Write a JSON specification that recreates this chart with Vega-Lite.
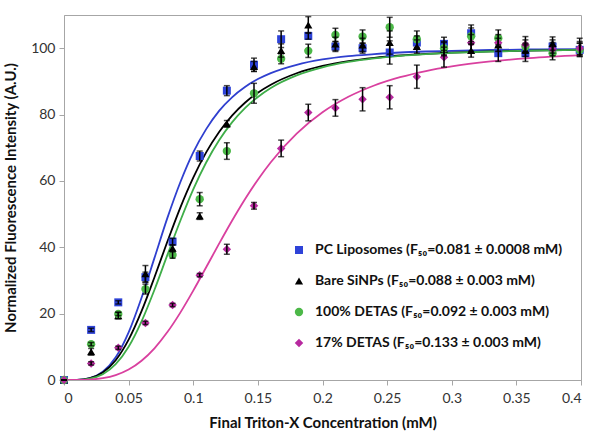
{
  "$schema": "https://vega.github.io/schema/vega-lite/v6.json",
  "width": 517,
  "height": 365,
  "autosize": {"type": "none"},
  "padding": {"left": 64, "top": 15, "right": 19, "bottom": 65},
  "background": "white",
  "config": {
    "font": "Lato",
    "view": {"stroke": "#a6a6a6", "strokeWidth": 1},
    "axis": {
      "grid": false,
      "domainColor": "#a6a6a6",
      "tickColor": "#a6a6a6",
      "tickSize": 5,
      "labelFont": "Lato",
      "labelFontSize": 14,
      "labelColor": "#333333",
      "titleFont": "Lato",
      "titleFontSize": 15,
      "titleFontWeight": "bold",
      "titleColor": "#111111"
    }
  },
  "datasets": {
    "pts": [
      {"series": "PC Liposomes (F₅₀=0.081 ± 0.0008 mM)", "x": 0, "y": 0, "err": 0},
      {"series": "PC Liposomes (F₅₀=0.081 ± 0.0008 mM)", "x": 0.021, "y": 15.1, "err": 0.5},
      {"series": "PC Liposomes (F₅₀=0.081 ± 0.0008 mM)", "x": 0.042, "y": 23.4, "err": 0.5},
      {"series": "PC Liposomes (F₅₀=0.081 ± 0.0008 mM)", "x": 0.063, "y": 31, "err": 1.5},
      {"series": "PC Liposomes (F₅₀=0.081 ± 0.0008 mM)", "x": 0.084, "y": 41.7, "err": 1},
      {"series": "PC Liposomes (F₅₀=0.081 ± 0.0008 mM)", "x": 0.105, "y": 67.5, "err": 1.5},
      {"series": "PC Liposomes (F₅₀=0.081 ± 0.0008 mM)", "x": 0.126, "y": 87.2, "err": 1.5},
      {"series": "PC Liposomes (F₅₀=0.081 ± 0.0008 mM)", "x": 0.147, "y": 95, "err": 2},
      {"series": "PC Liposomes (F₅₀=0.081 ± 0.0008 mM)", "x": 0.168, "y": 102.7, "err": 2.5},
      {"series": "PC Liposomes (F₅₀=0.081 ± 0.0008 mM)", "x": 0.189, "y": 103.7, "err": 1},
      {"series": "PC Liposomes (F₅₀=0.081 ± 0.0008 mM)", "x": 0.21, "y": 100.5, "err": 1.5},
      {"series": "PC Liposomes (F₅₀=0.081 ± 0.0008 mM)", "x": 0.231, "y": 100, "err": 1.5},
      {"series": "PC Liposomes (F₅₀=0.081 ± 0.0008 mM)", "x": 0.252, "y": 98.7, "err": 3.5},
      {"series": "PC Liposomes (F₅₀=0.081 ± 0.0008 mM)", "x": 0.273, "y": 101.7, "err": 2},
      {"series": "PC Liposomes (F₅₀=0.081 ± 0.0008 mM)", "x": 0.294, "y": 101.3, "err": 2},
      {"series": "PC Liposomes (F₅₀=0.081 ± 0.0008 mM)", "x": 0.315, "y": 104.5, "err": 2.5},
      {"series": "PC Liposomes (F₅₀=0.081 ± 0.0008 mM)", "x": 0.336, "y": 98.5, "err": 2.5},
      {"series": "PC Liposomes (F₅₀=0.081 ± 0.0008 mM)", "x": 0.357, "y": 98.5, "err": 2.5},
      {"series": "PC Liposomes (F₅₀=0.081 ± 0.0008 mM)", "x": 0.378, "y": 100.5, "err": 2},
      {"series": "PC Liposomes (F₅₀=0.081 ± 0.0008 mM)", "x": 0.399, "y": 99.5, "err": 2},
      {"series": "Bare SiNPs (F₅₀=0.088 ± 0.003 mM)", "x": 0, "y": 0, "err": 0},
      {"series": "Bare SiNPs (F₅₀=0.088 ± 0.003 mM)", "x": 0.021, "y": 8.5, "err": 1},
      {"series": "Bare SiNPs (F₅₀=0.088 ± 0.003 mM)", "x": 0.042, "y": 19.4, "err": 1},
      {"series": "Bare SiNPs (F₅₀=0.088 ± 0.003 mM)", "x": 0.063, "y": 32, "err": 2.5},
      {"series": "Bare SiNPs (F₅₀=0.088 ± 0.003 mM)", "x": 0.084, "y": 39.7, "err": 1},
      {"series": "Bare SiNPs (F₅₀=0.088 ± 0.003 mM)", "x": 0.105, "y": 49.4, "err": 1},
      {"series": "Bare SiNPs (F₅₀=0.088 ± 0.003 mM)", "x": 0.126, "y": 77.2, "err": 1},
      {"series": "Bare SiNPs (F₅₀=0.088 ± 0.003 mM)", "x": 0.147, "y": 94.5, "err": 1.5},
      {"series": "Bare SiNPs (F₅₀=0.088 ± 0.003 mM)", "x": 0.168, "y": 99.3, "err": 2},
      {"series": "Bare SiNPs (F₅₀=0.088 ± 0.003 mM)", "x": 0.189, "y": 107, "err": 2.5},
      {"series": "Bare SiNPs (F₅₀=0.088 ± 0.003 mM)", "x": 0.21, "y": 101.3, "err": 2},
      {"series": "Bare SiNPs (F₅₀=0.088 ± 0.003 mM)", "x": 0.231, "y": 101, "err": 2},
      {"series": "Bare SiNPs (F₅₀=0.088 ± 0.003 mM)", "x": 0.252, "y": 101.7, "err": 3.5},
      {"series": "Bare SiNPs (F₅₀=0.088 ± 0.003 mM)", "x": 0.273, "y": 100.5, "err": 2},
      {"series": "Bare SiNPs (F₅₀=0.088 ± 0.003 mM)", "x": 0.294, "y": 99.7, "err": 2},
      {"series": "Bare SiNPs (F₅₀=0.088 ± 0.003 mM)", "x": 0.315, "y": 99.3, "err": 2},
      {"series": "Bare SiNPs (F₅₀=0.088 ± 0.003 mM)", "x": 0.336, "y": 101, "err": 2},
      {"series": "Bare SiNPs (F₅₀=0.088 ± 0.003 mM)", "x": 0.357, "y": 99.5, "err": 2},
      {"series": "Bare SiNPs (F₅₀=0.088 ± 0.003 mM)", "x": 0.378, "y": 101.4, "err": 2},
      {"series": "Bare SiNPs (F₅₀=0.088 ± 0.003 mM)", "x": 0.399, "y": 100.5, "err": 2.5},
      {"series": "100% DETAS (F₅₀=0.092 ± 0.003 mM)", "x": 0, "y": 0, "err": 0},
      {"series": "100% DETAS (F₅₀=0.092 ± 0.003 mM)", "x": 0.021, "y": 10.8, "err": 0.5},
      {"series": "100% DETAS (F₅₀=0.092 ± 0.003 mM)", "x": 0.042, "y": 19.9, "err": 0.5},
      {"series": "100% DETAS (F₅₀=0.092 ± 0.003 mM)", "x": 0.063, "y": 27.4, "err": 1.5},
      {"series": "100% DETAS (F₅₀=0.092 ± 0.003 mM)", "x": 0.084, "y": 37.7, "err": 1},
      {"series": "100% DETAS (F₅₀=0.092 ± 0.003 mM)", "x": 0.105, "y": 54.5, "err": 2},
      {"series": "100% DETAS (F₅₀=0.092 ± 0.003 mM)", "x": 0.126, "y": 69, "err": 2.5},
      {"series": "100% DETAS (F₅₀=0.092 ± 0.003 mM)", "x": 0.147, "y": 86.4, "err": 3},
      {"series": "100% DETAS (F₅₀=0.092 ± 0.003 mM)", "x": 0.168, "y": 96.8, "err": 1.5},
      {"series": "100% DETAS (F₅₀=0.092 ± 0.003 mM)", "x": 0.189, "y": 99.2, "err": 2},
      {"series": "100% DETAS (F₅₀=0.092 ± 0.003 mM)", "x": 0.21, "y": 104, "err": 2},
      {"series": "100% DETAS (F₅₀=0.092 ± 0.003 mM)", "x": 0.231, "y": 103.5, "err": 2},
      {"series": "100% DETAS (F₅₀=0.092 ± 0.003 mM)", "x": 0.252, "y": 106.3, "err": 3},
      {"series": "100% DETAS (F₅₀=0.092 ± 0.003 mM)", "x": 0.273, "y": 102.7, "err": 2.5},
      {"series": "100% DETAS (F₅₀=0.092 ± 0.003 mM)", "x": 0.294, "y": 100, "err": 2},
      {"series": "100% DETAS (F₅₀=0.092 ± 0.003 mM)", "x": 0.315, "y": 103.6, "err": 2.5},
      {"series": "100% DETAS (F₅₀=0.092 ± 0.003 mM)", "x": 0.336, "y": 103, "err": 2.5},
      {"series": "100% DETAS (F₅₀=0.092 ± 0.003 mM)", "x": 0.357, "y": 100.5, "err": 2},
      {"series": "100% DETAS (F₅₀=0.092 ± 0.003 mM)", "x": 0.378, "y": 98.5, "err": 2},
      {"series": "100% DETAS (F₅₀=0.092 ± 0.003 mM)", "x": 0.399, "y": 99.5, "err": 2},
      {"series": "17% DETAS (F₅₀=0.133 ± 0.003 mM)", "x": 0, "y": 0, "err": 0},
      {"series": "17% DETAS (F₅₀=0.133 ± 0.003 mM)", "x": 0.021, "y": 5, "err": 0.5},
      {"series": "17% DETAS (F₅₀=0.133 ± 0.003 mM)", "x": 0.042, "y": 9.7, "err": 0.5},
      {"series": "17% DETAS (F₅₀=0.133 ± 0.003 mM)", "x": 0.063, "y": 17.2, "err": 0.5},
      {"series": "17% DETAS (F₅₀=0.133 ± 0.003 mM)", "x": 0.084, "y": 22.6, "err": 0.5},
      {"series": "17% DETAS (F₅₀=0.133 ± 0.003 mM)", "x": 0.105, "y": 31.6, "err": 0.5},
      {"series": "17% DETAS (F₅₀=0.133 ± 0.003 mM)", "x": 0.126, "y": 39.4, "err": 1.5},
      {"series": "17% DETAS (F₅₀=0.133 ± 0.003 mM)", "x": 0.147, "y": 52.5, "err": 1},
      {"series": "17% DETAS (F₅₀=0.133 ± 0.003 mM)", "x": 0.168, "y": 69.8, "err": 2.5},
      {"series": "17% DETAS (F₅₀=0.133 ± 0.003 mM)", "x": 0.189, "y": 80.6, "err": 2.5},
      {"series": "17% DETAS (F₅₀=0.133 ± 0.003 mM)", "x": 0.21, "y": 82, "err": 2.5},
      {"series": "17% DETAS (F₅₀=0.133 ± 0.003 mM)", "x": 0.231, "y": 84.6, "err": 3.5},
      {"series": "17% DETAS (F₅₀=0.133 ± 0.003 mM)", "x": 0.252, "y": 85.2, "err": 3.5},
      {"series": "17% DETAS (F₅₀=0.133 ± 0.003 mM)", "x": 0.273, "y": 91.4, "err": 3.5},
      {"series": "17% DETAS (F₅₀=0.133 ± 0.003 mM)", "x": 0.294, "y": 97.3, "err": 3},
      {"series": "17% DETAS (F₅₀=0.133 ± 0.003 mM)", "x": 0.315, "y": 101.6, "err": 2.5},
      {"series": "17% DETAS (F₅₀=0.133 ± 0.003 mM)", "x": 0.336, "y": 101.6, "err": 2.5},
      {"series": "17% DETAS (F₅₀=0.133 ± 0.003 mM)", "x": 0.357, "y": 101, "err": 2.5},
      {"series": "17% DETAS (F₅₀=0.133 ± 0.003 mM)", "x": 0.378, "y": 99.7, "err": 2},
      {"series": "17% DETAS (F₅₀=0.133 ± 0.003 mM)", "x": 0.399, "y": 100, "err": 2}
    ],
    "fit": [
      {"c": "PC", "x": 0, "y": 0}, {"c": "PC", "x": 0.01, "y": 0.04}, {"c": "PC", "x": 0.02, "y": 0.56}, {"c": "PC", "x": 0.03, "y": 2.47}, {"c": "PC", "x": 0.04, "y": 6.84}, {"c": "PC", "x": 0.05, "y": 14.37}, {"c": "PC", "x": 0.06, "y": 24.8}, {"c": "PC", "x": 0.07, "y": 36.8}, {"c": "PC", "x": 0.08, "y": 48.85}, {"c": "PC", "x": 0.09, "y": 59.6}, {"c": "PC", "x": 0.1, "y": 68.6}, {"c": "PC", "x": 0.11, "y": 75.6}, {"c": "PC", "x": 0.12, "y": 81.1}, {"c": "PC", "x": 0.13, "y": 85.2}, {"c": "PC", "x": 0.14, "y": 88.3}, {"c": "PC", "x": 0.15, "y": 90.7}, {"c": "PC", "x": 0.16, "y": 92.5}, {"c": "PC", "x": 0.18, "y": 95.0}, {"c": "PC", "x": 0.2, "y": 96.6}, {"c": "PC", "x": 0.22, "y": 97.6}, {"c": "PC", "x": 0.24, "y": 98.2}, {"c": "PC", "x": 0.26, "y": 98.7}, {"c": "PC", "x": 0.28, "y": 99.0}, {"c": "PC", "x": 0.3, "y": 99.2}, {"c": "PC", "x": 0.33, "y": 99.45}, {"c": "PC", "x": 0.36, "y": 99.6}, {"c": "PC", "x": 0.4, "y": 99.7},
      {"c": "Bare", "x": 0, "y": 0}, {"c": "Bare", "x": 0.01, "y": 0.05}, {"c": "Bare", "x": 0.02, "y": 0.56}, {"c": "Bare", "x": 0.03, "y": 2.26}, {"c": "Bare", "x": 0.04, "y": 5.95}, {"c": "Bare", "x": 0.05, "y": 12.15}, {"c": "Bare", "x": 0.06, "y": 20.74}, {"c": "Bare", "x": 0.07, "y": 30.98}, {"c": "Bare", "x": 0.08, "y": 41.73}, {"c": "Bare", "x": 0.09, "y": 51.97}, {"c": "Bare", "x": 0.1, "y": 61.0}, {"c": "Bare", "x": 0.11, "y": 68.6}, {"c": "Bare", "x": 0.12, "y": 74.75}, {"c": "Bare", "x": 0.13, "y": 79.67}, {"c": "Bare", "x": 0.14, "y": 83.55}, {"c": "Bare", "x": 0.15, "y": 86.6}, {"c": "Bare", "x": 0.16, "y": 89.0}, {"c": "Bare", "x": 0.18, "y": 92.45}, {"c": "Bare", "x": 0.2, "y": 94.65}, {"c": "Bare", "x": 0.22, "y": 96.1}, {"c": "Bare", "x": 0.24, "y": 97.1}, {"c": "Bare", "x": 0.26, "y": 97.8}, {"c": "Bare", "x": 0.28, "y": 98.3}, {"c": "Bare", "x": 0.3, "y": 98.65}, {"c": "Bare", "x": 0.33, "y": 99.03}, {"c": "Bare", "x": 0.36, "y": 99.28}, {"c": "Bare", "x": 0.4, "y": 99.5},
      {"c": "D100", "x": 0, "y": 0}, {"c": "D100", "x": 0.01, "y": 0.03}, {"c": "D100", "x": 0.02, "y": 0.41}, {"c": "D100", "x": 0.03, "y": 1.74}, {"c": "D100", "x": 0.04, "y": 4.75}, {"c": "D100", "x": 0.05, "y": 10.0}, {"c": "D100", "x": 0.06, "y": 17.67}, {"c": "D100", "x": 0.07, "y": 27.2}, {"c": "D100", "x": 0.08, "y": 37.7}, {"c": "D100", "x": 0.09, "y": 48.0}, {"c": "D100", "x": 0.1, "y": 57.45}, {"c": "D100", "x": 0.11, "y": 65.55}, {"c": "D100", "x": 0.12, "y": 72.25}, {"c": "D100", "x": 0.13, "y": 77.64}, {"c": "D100", "x": 0.14, "y": 81.93}, {"c": "D100", "x": 0.15, "y": 85.3}, {"c": "D100", "x": 0.16, "y": 88.0}, {"c": "D100", "x": 0.18, "y": 91.8}, {"c": "D100", "x": 0.2, "y": 94.24}, {"c": "D100", "x": 0.22, "y": 95.85}, {"c": "D100", "x": 0.24, "y": 96.93}, {"c": "D100", "x": 0.26, "y": 97.68}, {"c": "D100", "x": 0.28, "y": 98.21}, {"c": "D100", "x": 0.3, "y": 98.6}, {"c": "D100", "x": 0.33, "y": 99.0}, {"c": "D100", "x": 0.36, "y": 99.27}, {"c": "D100", "x": 0.4, "y": 99.5},
      {"c": "D17", "x": 0, "y": 0}, {"c": "D17", "x": 0.01, "y": 0.01}, {"c": "D17", "x": 0.02, "y": 0.13}, {"c": "D17", "x": 0.03, "y": 0.54}, {"c": "D17", "x": 0.04, "y": 1.47}, {"c": "D17", "x": 0.05, "y": 3.15}, {"c": "D17", "x": 0.06, "y": 5.81}, {"c": "D17", "x": 0.07, "y": 9.56}, {"c": "D17", "x": 0.08, "y": 14.44}, {"c": "D17", "x": 0.09, "y": 20.31}, {"c": "D17", "x": 0.1, "y": 26.93}, {"c": "D17", "x": 0.11, "y": 33.97}, {"c": "D17", "x": 0.12, "y": 41.09}, {"c": "D17", "x": 0.13, "y": 48.0}, {"c": "D17", "x": 0.14, "y": 54.48}, {"c": "D17", "x": 0.15, "y": 60.38}, {"c": "D17", "x": 0.16, "y": 65.63}, {"c": "D17", "x": 0.18, "y": 74.25}, {"c": "D17", "x": 0.2, "y": 80.66}, {"c": "D17", "x": 0.22, "y": 85.34}, {"c": "D17", "x": 0.24, "y": 88.75}, {"c": "D17", "x": 0.26, "y": 91.26}, {"c": "D17", "x": 0.28, "y": 93.12}, {"c": "D17", "x": 0.3, "y": 94.52}, {"c": "D17", "x": 0.33, "y": 96.0}, {"c": "D17", "x": 0.36, "y": 97.02}, {"c": "D17", "x": 0.4, "y": 97.92}
    ]
  },
  "layer": [
    {
      "data": {"name": "fit"},
      "mark": {"type": "line", "strokeWidth": 1.8, "interpolate": "monotone", "clip": true},
      "encoding": {
        "x": {"field": "x", "type": "quantitative", "title": "Final Triton-X Concentration (mM)", "scale": {"domain": [0, 0.4], "nice": false},
          "axis": {"values": [0, 0.05, 0.1, 0.15, 0.2, 0.25, 0.3, 0.35, 0.4], "format": ".2~f", "labelPadding": 6, "titlePadding": 10}},
        "y": {"field": "y", "type": "quantitative", "title": "Normalized Fluorescence Intensity (A.U.)", "scale": {"domain": [0, 110], "nice": false},
          "axis": {"values": [0, 20, 40, 60, 80, 100], "labelPadding": 4, "titlePadding": 12}},
        "stroke": {"field": "c", "type": "nominal", "legend": null,
          "scale": {"domain": ["PC", "Bare", "D100", "D17"], "range": ["#2f3fcf", "#000000", "#3fae49", "#d9409f"]}},
        "detail": {"field": "c"}
      }
    },
    {
      "data": {"name": "pts"},
      "mark": {"type": "point", "filled": true, "opacity": 1},
      "encoding": {
        "x": {"field": "x", "type": "quantitative", "title": "Final Triton-X Concentration (mM)"},
        "y": {"field": "y", "type": "quantitative", "title": "Normalized Fluorescence Intensity (A.U.)"},
        "color": {"field": "series", "type": "nominal",
          "scale": {"domain": ["PC Liposomes (F₅₀=0.081 ± 0.0008 mM)", "Bare SiNPs (F₅₀=0.088 ± 0.003 mM)", "100% DETAS (F₅₀=0.092 ± 0.003 mM)", "17% DETAS (F₅₀=0.133 ± 0.003 mM)"],
            "range": ["#2e43d8", "#000000", "#4cb848", "#b7299f"]},
          "legend": {"orient": "none", "legendX": 228, "legendY": 228, "title": null, "labelFontSize": 14, "labelFont": "Lato", "labelFontWeight": "bold", "labelColor": "#111111", "symbolSize": 45, "rowPadding": 17, "labelOffset": 9, "labelLimit": 400, "padding": 0}},
        "shape": {"field": "series", "type": "nominal",
          "scale": {"domain": ["PC Liposomes (F₅₀=0.081 ± 0.0008 mM)", "Bare SiNPs (F₅₀=0.088 ± 0.003 mM)", "100% DETAS (F₅₀=0.092 ± 0.003 mM)", "17% DETAS (F₅₀=0.133 ± 0.003 mM)"],
            "range": ["square", "triangle-up", "circle", "diamond"]}},
        "size": {"field": "series", "type": "nominal", "legend": null,
          "scale": {"domain": ["PC Liposomes (F₅₀=0.081 ± 0.0008 mM)", "Bare SiNPs (F₅₀=0.088 ± 0.003 mM)", "100% DETAS (F₅₀=0.092 ± 0.003 mM)", "17% DETAS (F₅₀=0.133 ± 0.003 mM)"],
            "range": [64, 72, 72, 110]}}
      }
    },
    {
      "data": {"name": "pts"},
      "mark": {"type": "errorbar", "color": "#000000", "thickness": 1.5, "ticks": {"size": 6, "color": "#000000", "strokeWidth": 1.5}},
      "encoding": {
        "x": {"field": "x", "type": "quantitative", "title": "Final Triton-X Concentration (mM)"},
        "y": {"field": "y", "type": "quantitative", "title": "Normalized Fluorescence Intensity (A.U.)"},
        "yError": {"field": "err"}
      }
    }
  ]
}
